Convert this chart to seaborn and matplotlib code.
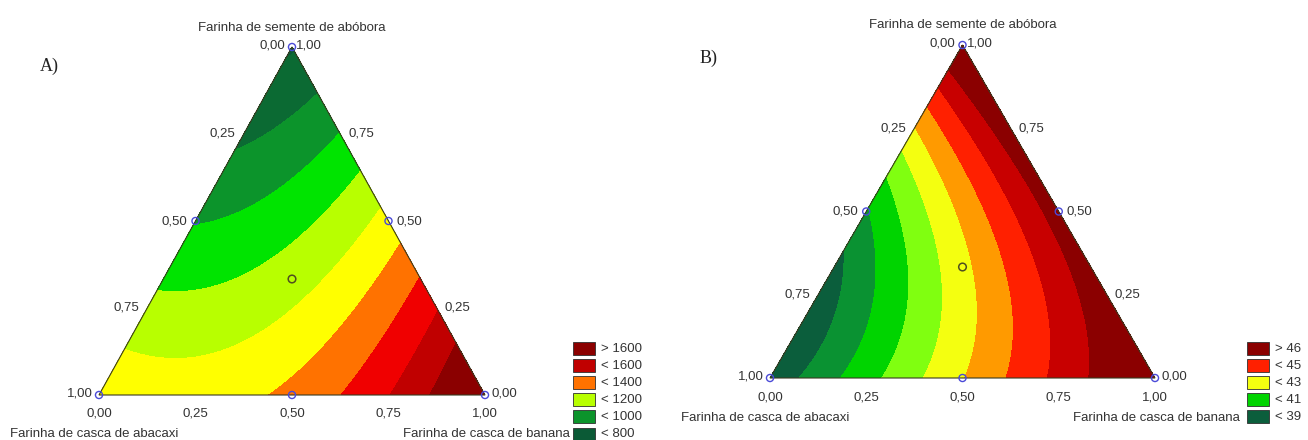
import numpy as np
import pandas as pd
import matplotlib
matplotlib.use("Agg")
import matplotlib.pyplot as plt
import matplotlib.tri as mtri
from matplotlib.patches import Polygon, Rectangle
from matplotlib.transforms import offset_copy
import seaborn as sns

# ---------------------------------------------------------------------------
# Fitted mixture models (Scheffé quadratic):
#   y = b1*x1 + b2*x2 + b3*x3 + b12*x1*x2 + b13*x1*x3 + b23*x2*x3
#   x1 = farinha de casca de abacaxi, x2 = farinha de casca de banana,
#   x3 = farinha de semente de abóbora
# ---------------------------------------------------------------------------
coef_a = [1285.0, 1767.0, 788.0, -800.0, -170.0, -159.0]
coef_b = [38.3, 47.6, 47.5, 0.0, -12.0, -4.0]

levels_a = [800, 900, 1000, 1100, 1200, 1300, 1400, 1500, 1600]
levels_b = [39, 40, 41, 42, 43, 44, 45, 46]

legend_a_labels = ["> 1600", "< 1600", "< 1400", "< 1200", "< 1000", "< 800"]
legend_a_bands = [9, 8, 6, 4, 2, 0]
legend_b_labels = ["> 46", "< 45", "< 43", "< 41", "< 39"]
legend_b_bands = [8, 6, 4, 2, 0]

# simplex-centroid design points
design_x1 = [1.0, 0.0, 0.0, 0.5, 0.5, 0.0, 1 / 3]
design_x2 = [0.0, 1.0, 0.0, 0.5, 0.0, 0.5, 1 / 3]
design_x3 = [0.0, 0.0, 1.0, 0.0, 0.5, 0.5, 1 / 3]

tick_values = [0.0, 0.25, 0.5, 0.75, 1.0]

title_top = "Farinha de semente de abóbora"
title_left = "Farinha de casca de abacaxi"
title_right = "Farinha de casca de banana"

colors_a = ["#0b5a36", "#0b6a33", "#0c942b", "#00e400", "#b8ff00",
            "#ffff00", "#ff7200", "#f00000", "#c00000", "#8b0000"]
colors_b = ["#0b5e3c", "#0a9232", "#00d400", "#80ff10", "#f4ff10",
            "#ff9a00", "#ff2000", "#c80000", "#8b0000"]

FONT = "Liberation Sans"
TXT = "#333333"

sns.set_style("white")
plt.rcParams["font.family"] = [FONT, "DejaVu Sans"]

W, H = 1308, 440
fig = plt.figure(figsize=(W / 100, H / 100), dpi=100)


def fmt(v):
    return f"{v:.2f}".replace(".", ",")


def model(c, x1, x2, x3):
    b1, b2, b3, b12, b13, b23 = c
    return (b1 * x1 + b2 * x2 + b3 * x3 + b12 * x1 * x2
            + b13 * x1 * x3 + b23 * x2 * x3)


def to_xy(x2, x3):
    x2 = np.asarray(x2, float)
    x3 = np.asarray(x3, float)
    return x2 + 0.5 * x3, x3


def draw_panel(rect, coef, levels, colors, title_dy, tick_dy, axis_dy):
    left, bottom, width, height = rect
    ax = fig.add_axes([left / W, (H - bottom) / H, width / W, height / H])
    ax.set_xlim(0, 1)
    ax.set_ylim(0, 1)
    ax.set_axis_off()

    # barycentric lattice inside the simplex
    n = 160
    ii, jj = np.meshgrid(np.arange(n + 1), np.arange(n + 1))
    keep = ii + jj <= n
    x2 = ii[keep] / n
    x3 = jj[keep] / n
    x1 = 1 - x2 - x3
    z = model(coef, x1, x2, x3)
    px, py = to_xy(x2, x3)
    tri = mtri.Triangulation(px, py)
    bounds = [z.min() - 1] + list(levels) + [z.max() + 1]
    ax.tricontourf(tri, z, levels=bounds, colors=colors, antialiased=False)

    outline = Polygon([[0, 0], [1, 0], [0.5, 1]], closed=True, fill=False,
                      edgecolor="#3a3a20", lw=0.8, clip_on=False, zorder=4)
    ax.add_patch(outline)

    # design points
    d = pd.DataFrame({"x2": design_x2, "x3": design_x3})
    d["px"], d["py"] = to_xy(d["x2"], d["x3"])
    sns.scatterplot(data=d.iloc[:6], x="px", y="py", ax=ax, s=26,
                    facecolor="none", edgecolor="#4a4ad8", linewidth=1.0,
                    zorder=6, clip_on=False, legend=False)
    sns.scatterplot(data=d.iloc[6:], x="px", y="py", ax=ax, s=30,
                    facecolor="none", edgecolor="#505020", linewidth=1.1,
                    zorder=6, clip_on=False, legend=False)
    ax.set_xlabel("")
    ax.set_ylabel("")

    def put(x, y, s, dx, dy, ha="center", va="center"):
        tr = offset_copy(ax.transData, fig=fig, x=dx, y=dy, units="dots")
        ax.text(x, y, s, transform=tr, ha=ha, va=va, fontsize=9.5,
                color=TXT, clip_on=False)

    # top vertex
    put(0.5, 1, title_top, 0, title_dy)
    put(0.5, 1, fmt(0.0), -7, 1, ha="right")
    put(0.5, 1, fmt(1.0), 4, 1, ha="left")
    # left edge: abacaxi fraction
    for t in tick_values[1:4]:
        ex, ey = to_xy(0, t)
        put(ex, ey, fmt(1 - t), -8, 0, ha="right")
    put(0, 0, fmt(1.0), -6, 2, ha="right")
    # right edge: abóbora fraction
    for t in tick_values[1:4]:
        ex, ey = to_xy(1 - t, t)
        put(ex, ey, fmt(t), 8, 0, ha="left")
    put(1, 0, fmt(0.0), 6, 2, ha="left")
    # bottom edge: banana fraction
    for t in tick_values:
        put(t, 0, fmt(t), 0, tick_dy)
    put(0, 0, title_left, -89, axis_dy, ha="left")
    put(1, 0, title_right, 85, axis_dy, ha="right")
    return ax


def draw_legend(x, y_top, step, labels, bands, colors):
    for k, (lab, b) in enumerate(zip(labels, bands)):
        yc = y_top + k * step
        fig.add_artist(Rectangle((x / W, (H - yc - 6.5) / H), 22 / W, 13 / H,
                                 transform=fig.transFigure,
                                 facecolor=colors[b], edgecolor="#303030",
                                 lw=0.6))
        fig.text((x + 28) / W, (H - yc) / H, lab, ha="left", va="center",
                 fontsize=9.5, color=TXT)


draw_panel((99, 395, 386, 348), coef_a, levels_a, colors_a,
           title_dy=19, tick_dy=-18.5, axis_dy=-39)
draw_panel((770, 378, 385, 333), coef_b, levels_b, colors_b,
           title_dy=20, tick_dy=-19, axis_dy=-40)

draw_legend(573, 348.5, 17.1, legend_a_labels, legend_a_bands, colors_a)
draw_legend(1247, 348.5, 17.1, legend_b_labels, legend_b_bands, colors_b)

fig.text(40 / W, (H - 66) / H, "A)", ha="left", va="center", fontsize=13,
         family="Liberation Serif", color="#222222")
fig.text(700 / W, (H - 58) / H, "B)", ha="left", va="center", fontsize=13,
         family="Liberation Serif", color="#222222")

fig.savefig("out.png", dpi=100, facecolor="white")
